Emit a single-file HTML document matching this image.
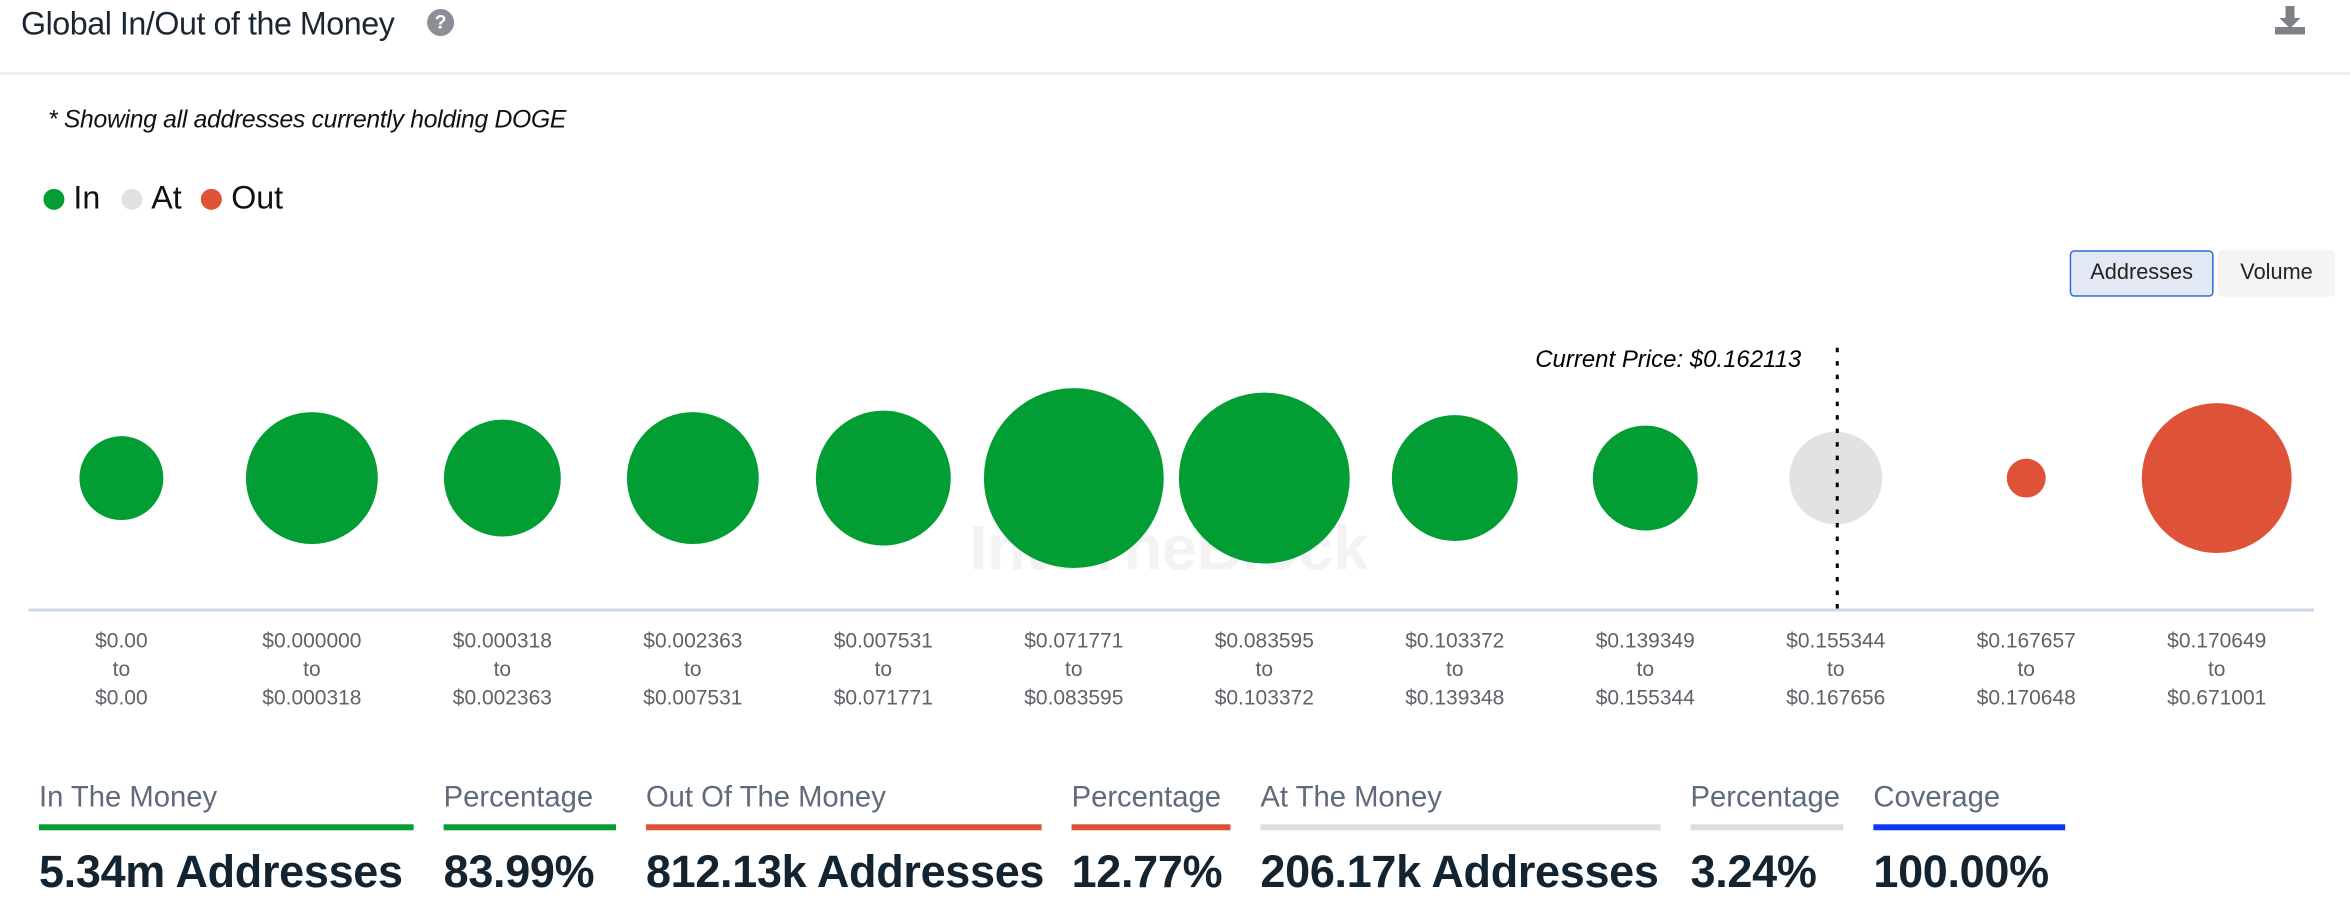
<!DOCTYPE html>
<html><head><meta charset="utf-8">
<style>
html,body{margin:0;padding:0;background:#fff;width:2350px;height:892px;overflow:hidden}
#wrap{position:absolute;left:0;top:0;width:1568px;height:595px;transform:scale(1.4987);transform-origin:0 0;font-family:"Liberation Sans",sans-serif}
.abs{position:absolute}
.lbl{font-size:19.5px;color:#5f6b7a;top:521px}
.bar{height:4px;top:550px}
.val{font-size:30px;color:#13232f;top:566px;font-weight:bold;letter-spacing:-0.2px;white-space:nowrap}
</style></head><body>
<div id="wrap">
  <div class="abs" style="left:14px;top:4px;font-size:21.5px;color:#1a2733;letter-spacing:-0.3px">Global In/Out of the Money</div>
  <div class="abs" style="left:285px;top:6px;width:18px;height:18px;border-radius:50%;background:#8a8f95;color:#fff;font-size:13px;font-weight:bold;text-align:center;line-height:18px">?</div>
  <svg class="abs" style="left:1517px;top:3px" width="22" height="22"><path d="M8 1h6v8h4l-7 7-7-7h4z" fill="#7d8288"/><rect x="1" y="15" width="20" height="5" fill="#7d8288"/></svg>
  <div class="abs" style="left:0;top:48px;width:1568px;height:2px;background:#eeeff1"></div>
  <div class="abs" style="left:32px;top:71px;font-size:16.5px;font-style:italic;color:#111;letter-spacing:-0.2px">* Showing all addresses currently holding DOGE</div>
  <div class="abs" style="left:29px;top:120px;font-size:21.5px;color:#111;display:flex;align-items:center">
    <span style="display:flex;align-items:center"><span style="width:14px;height:14px;border-radius:50%;background:#029e33;margin-right:6px"></span>In</span>
    <span style="display:flex;align-items:center;margin-left:14px"><span style="width:14px;height:14px;border-radius:50%;background:#e2e2e2;margin-right:6px"></span>At</span>
    <span style="display:flex;align-items:center;margin-left:13px"><span style="width:14px;height:14px;border-radius:50%;background:#de5238;margin-right:6px"></span>Out</span>
  </div>
  <div class="abs" style="left:1381px;top:167px;width:94px;height:29px;border:1.5px solid #2e6ae0;border-radius:3px;background:#e3e9f4;font-size:14.5px;color:#222;text-align:center;line-height:29px">Addresses</div>
  <div class="abs" style="left:1480px;top:167px;width:78px;height:31px;border-radius:3px;background:#f4f4f4;font-size:14.5px;color:#222;text-align:center;line-height:31px">Volume</div>
  <svg class="abs" id="chart" style="left:0;top:0" width="1568" height="480"></svg>

  <div class="abs lbl" style="left:26px">In The Money</div>
  <div class="abs bar" style="left:26px;width:250px;background:#029e33"></div>
  <div class="abs val" style="left:26px">5.34m Addresses</div>
  <div class="abs lbl" style="left:296px">Percentage</div>
  <div class="abs bar" style="left:296px;width:115px;background:#029e33"></div>
  <div class="abs val" style="left:296px">83.99%</div>
  <div class="abs lbl" style="left:431px">Out Of The Money</div>
  <div class="abs bar" style="left:431px;width:264px;background:#de5238"></div>
  <div class="abs val" style="left:431px">812.13k Addresses</div>
  <div class="abs lbl" style="left:715px">Percentage</div>
  <div class="abs bar" style="left:715px;width:106px;background:#de5238"></div>
  <div class="abs val" style="left:715px">12.77%</div>
  <div class="abs lbl" style="left:841px">At The Money</div>
  <div class="abs bar" style="left:841px;width:267px;background:#dedede"></div>
  <div class="abs val" style="left:841px">206.17k Addresses</div>
  <div class="abs lbl" style="left:1128px">Percentage</div>
  <div class="abs bar" style="left:1128px;width:102px;background:#dedede"></div>
  <div class="abs val" style="left:1128px">3.24%</div>
  <div class="abs lbl" style="left:1250px">Coverage</div>
  <div class="abs bar" style="left:1250px;width:128px;background:#0a3af0"></div>
  <div class="abs val" style="left:1250px">100.00%</div>
</div>
<script>
const rangeFrom=["$0.00","$0.000000","$0.000318","$0.002363","$0.007531","$0.071771","$0.083595","$0.103372","$0.139349","$0.155344","$0.167657","$0.170649"];
const rangeTo=["$0.00","$0.000318","$0.002363","$0.007531","$0.071771","$0.083595","$0.103372","$0.139348","$0.155344","$0.167656","$0.170648","$0.671001"];
const addressesK=[232,573,450,573,600,1066,962,522,363,284,50,740];
const status=["in","in","in","in","in","in","in","in","in","at","out","out"];
const currentPrice=0.162113;
const colors={in:"#029e33",at:"#e2e2e2",out:"#de5238"};
const NS="http://www.w3.org/2000/svg";
const svg=document.getElementById('chart');
const x0=81,step=127.1,cy=319,maxR=60;
const xPos=i=>x0+i*step;
const rScale=v=>Math.sqrt(v/Math.max(...addressesK))*maxR;
function mk(t,a){const e=document.createElementNS(NS,t);for(const k in a)e.setAttribute(k,a[k]);svg.appendChild(e);return e;}
const wm=mk('text',{x:780,y:380,'text-anchor':'middle','font-size':42,'font-weight':'bold',fill:'#f3f3f3','font-family':'Liberation Sans, sans-serif'});
wm.textContent='IntoTheBlock';


const ax=mk('line',{x1:19,x2:1544,y1:407,y2:407,stroke:'#cfd8e8','stroke-width':2});


addressesK.forEach((v,i)=>{
  const c=mk('circle',{cx:xPos(i),cy:cy,r:rScale(v),fill:colors[status[i]]});
  
  
  const lines=[rangeFrom[i],'to',rangeTo[i]];
  lines.forEach((s,j)=>{
    const t=mk('text',{x:xPos(i),y:432+j*19,'text-anchor':'middle','font-size':14,fill:'#5f6268','font-family':'Liberation Sans, sans-serif'});
    t.textContent=s;
    
    
  });
});
const ci=rangeFrom.findIndex((f,i)=>currentPrice>=parseFloat(f.slice(1))&&currentPrice<=parseFloat(rangeTo[i].slice(1)));
const px=xPos(ci<0?9:ci)+1;
const pl=mk('line',{x1:px,x2:px,y1:232,y2:406,stroke:'#000','stroke-width':2,'stroke-dasharray':'3,6'});


const pt=mk('text',{x:px-24,y:245,'text-anchor':'end','font-size':16,'font-style':'italic',fill:'#000','font-family':'Liberation Sans, sans-serif'});
pt.textContent='Current Price: $'+currentPrice;


</script>
</body></html>
